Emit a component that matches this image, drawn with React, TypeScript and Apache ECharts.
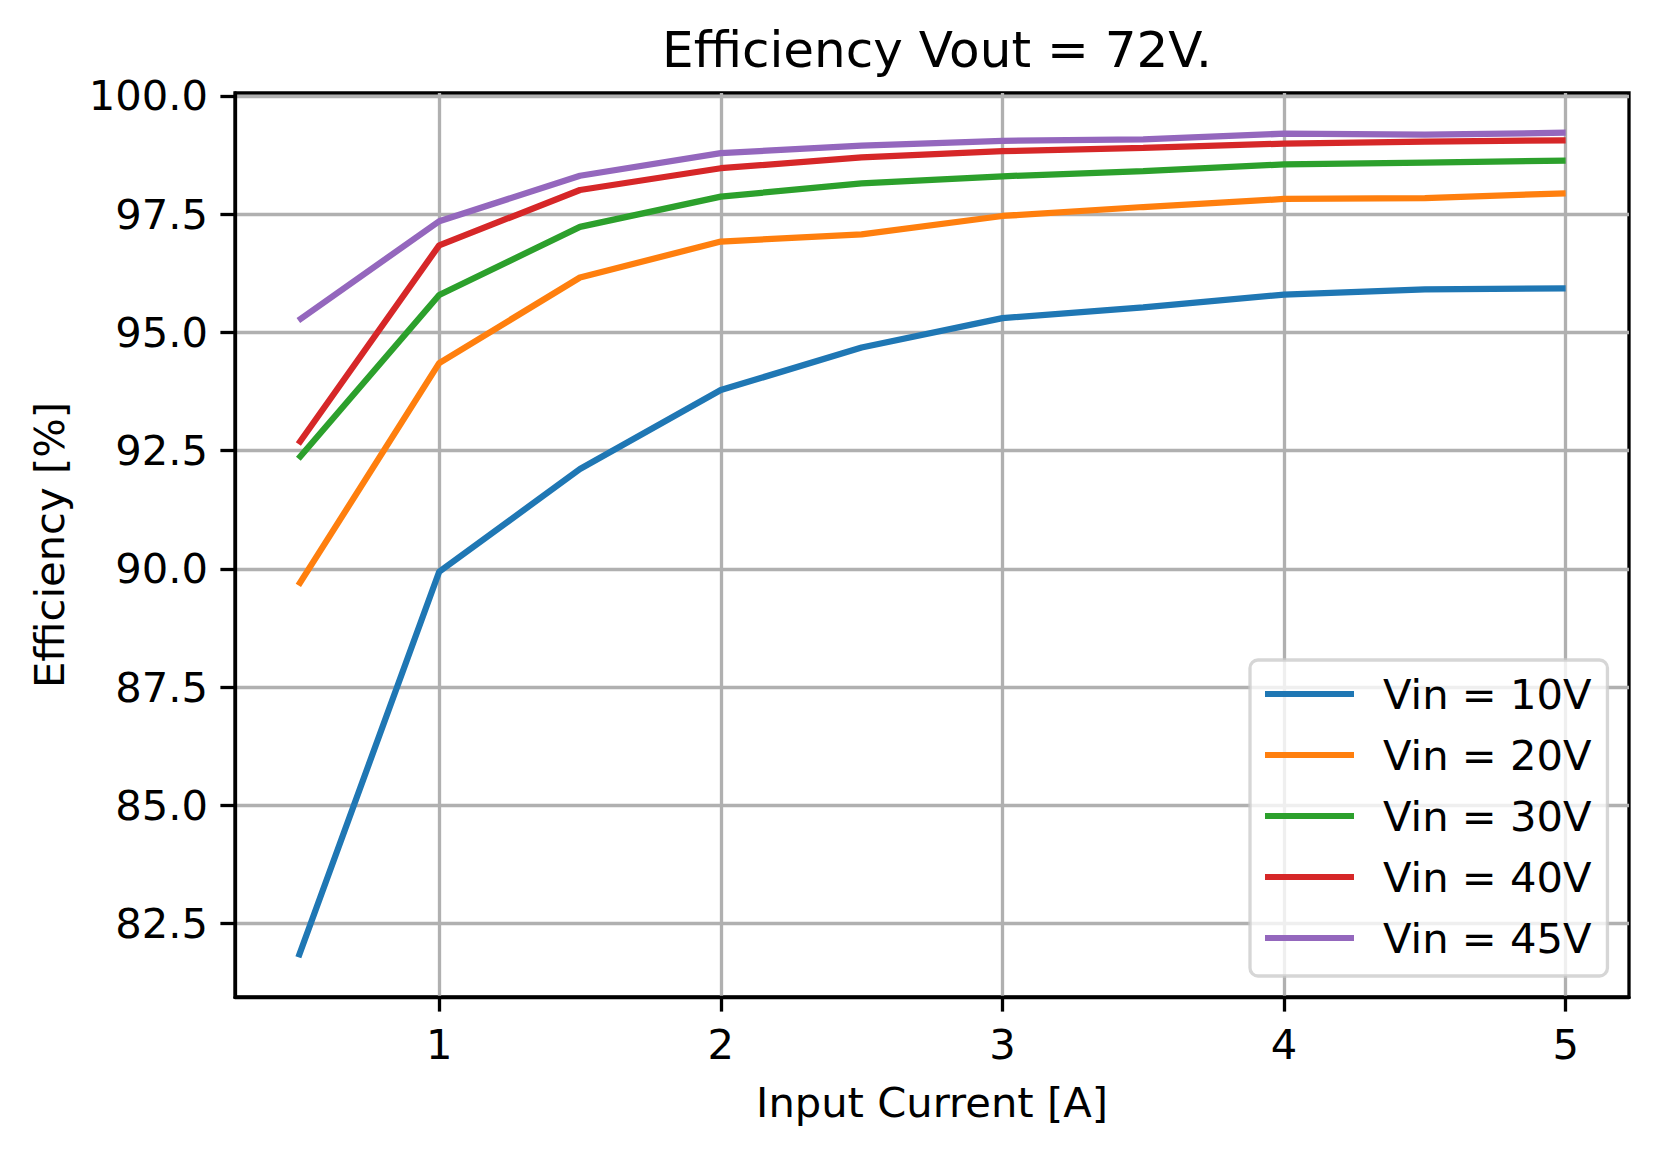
import React, { useEffect, useRef } from "react";
import * as echarts from "echarts";

const currents = [0.5, 1, 1.5, 2, 2.5, 3, 3.5, 4, 4.5, 5];
const vin10 = [81.79, 89.94, 92.11, 93.78, 94.68, 95.3, 95.53, 95.8, 95.91, 95.93];
const vin20 = [89.65, 94.35, 96.16, 96.92, 97.07, 97.46, 97.65, 97.82, 97.84, 97.94];
const vin30 = [92.33, 95.79, 97.23, 97.87, 98.15, 98.3, 98.41, 98.55, 98.59, 98.63];
const vin40 = [92.64, 96.84, 98.01, 98.47, 98.7, 98.83, 98.9, 98.99, 99.03, 99.06];
const vin45 = [95.25, 97.35, 98.31, 98.79, 98.95, 99.05, 99.08, 99.2, 99.18, 99.22];
const seriesNames = ["Vin = 10V", "Vin = 20V", "Vin = 30V", "Vin = 40V", "Vin = 45V"];
const seriesColors = ["#1f77b4", "#ff7f0e", "#2ca02c", "#d62728", "#9467bd"];
const xTicks = [1, 2, 3, 4, 5];
const yTicks = [82.5, 85, 87.5, 90, 92.5, 95, 97.5, 100];

const FONT = "DejaVu Sans";

export default function App() {
  const ref = useRef<HTMLDivElement>(null);
  useEffect(() => {
    document.body.style.margin = "0";
    const chart = echarts.init(ref.current!, null, { renderer: "svg" });
    const allSeries = [vin10, vin20, vin30, vin40, vin45];
    const option: any = {
      animation: false,
      backgroundColor: "#ffffff",
      textStyle: { fontFamily: FONT },
      title: {
        text: "Efficiency Vout = 72V.",
        left: 932,
        textAlign: "center",
        top: 20,
        textStyle: { fontFamily: FONT, fontSize: 50, fontWeight: "normal", color: "#000" },
      },
      grid: {
        left: 235,
        top: 93,
        right: 31,
        bottom: 157,
        show: true,
        borderColor: "#000",
        borderWidth: 3.3,
        backgroundColor: "transparent",
      },
      legend: {
        orient: "vertical",
        left: 1250,
        top: 660,
        padding: [13, 16, 17, 15],
        itemWidth: 89,
        itemHeight: 6,
        itemGap: 19,
        backgroundColor: "rgba(255,255,255,0.8)",
        borderColor: "rgba(204,204,204,0.8)",
        borderWidth: 3.3,
        borderRadius: 8,
        data: seriesNames.map((n) => ({ name: n, icon: "rect" })),
        textStyle: {
          fontFamily: FONT,
          fontSize: 41.67,
          lineHeight: 42,
          color: "#000",
          padding: [0, 0, 0, 24],
        },
      },
      xAxis: {
        type: "value",
        min: 0.275,
        max: 5.225,
        name: "Input Current [A]",
        nameLocation: "middle",
        nameGap: 84,
        nameTextStyle: { fontFamily: FONT, fontSize: 41.67, color: "#000" },
        axisLine: { show: true, lineStyle: { color: "#000", width: 3.3 } },
        axisTick: {
          show: true,
          customValues: xTicks,
          length: 14.6,
          lineStyle: { color: "#000", width: 3.3 },
        },
        axisLabel: {
          customValues: xTicks,
          margin: 26,
          fontFamily: FONT,
          fontSize: 41.67,
          color: "#000",
          formatter: (v: number) => String(v),
        },
        splitLine: { show: true, lineStyle: { color: "#b0b0b0", width: 3.3 } },
      },
      yAxis: {
        type: "value",
        min: 80.95,
        max: 100.06,
        name: "Efficiency [%]",
        nameLocation: "middle",
        nameGap: 165,
        nameTextStyle: { fontFamily: FONT, fontSize: 41.67, color: "#000" },
        axisLine: { show: true, lineStyle: { color: "#000", width: 3.3 } },
        axisTick: {
          show: true,
          customValues: yTicks,
          length: 14.6,
          lineStyle: { color: "#000", width: 3.3 },
        },
        axisLabel: {
          customValues: yTicks,
          margin: 27,
          fontFamily: FONT,
          fontSize: 41.67,
          color: "#000",
          formatter: (v: number) => v.toFixed(1),
        },
        splitLine: { show: true, lineStyle: { color: "#b0b0b0", width: 3.3 } },
      },
      series: allSeries.map((vals, i) => ({
        name: seriesNames[i],
        type: "line",
        data: currents.map((c, j) => [c, vals[j]]),
        showSymbol: false,
        symbol: "none",
        color: seriesColors[i],
        lineStyle: { color: seriesColors[i], width: 6.25 },
        z: 3,
      })),
    };
    chart.setOption(option);
    return () => chart.dispose();
  }, []);
  return <div ref={ref} style={{ width: 1660, height: 1154 }} />;
}
